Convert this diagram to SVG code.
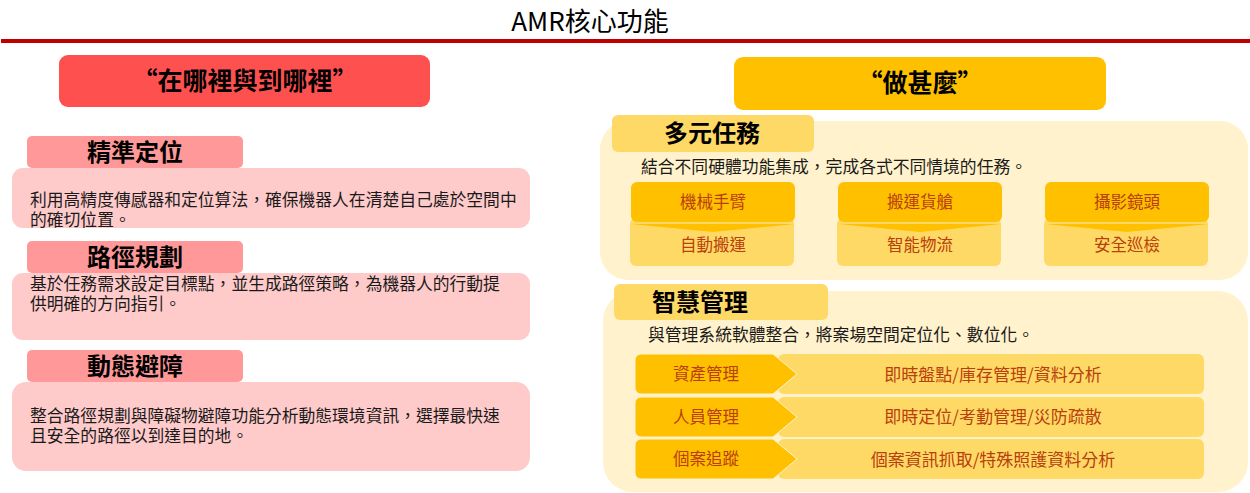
<svg xmlns="http://www.w3.org/2000/svg" width="1250" height="493" viewBox="0 0 1250 493">
<style>
text{font-family:"Noto Sans CJK TC","Noto Sans CJK SC",sans-serif;}
.title{font-size:26px;fill:#000;}
.hdr{font-size:25px;font-weight:bold;fill:#000;}
.tab{font-size:24px;font-weight:bold;fill:#000;}
.desc{font-size:16.8px;fill:#1a1a1a;}
.lbl{font-size:16.5px;fill:#B8400C;}
.lbl2{font-size:17px;fill:#B8400C;}
.red{fill:#FF5050;}
.pink{fill:#FF9999;}
.lpink{fill:#FFCACA;}
.gold{fill:#FFC000;}
.ygold{fill:#FFD966;}
.cream{fill:#FFF2CC;}
</style>
<rect width="1250" height="493" fill="#fff"/>
<g id="title">
<text class="title" x="590" y="31" text-anchor="middle">AMR核心功能</text>
<rect x="1" y="39" width="1249" height="4" fill="#C00000"/>
</g>

<g id="where">
<rect class="red" x="59" y="55" width="371" height="52" rx="9"/>
<text class="hdr" x="245" y="90" text-anchor="middle">“在哪裡與到哪裡”</text>
</g>

<g id="precise">
<rect class="lpink" x="12" y="168" width="518" height="60" rx="11"/>
<rect class="pink" x="27" y="136" width="216" height="32" rx="5"/>
<text class="tab" x="135" y="161" text-anchor="middle">精準定位</text>
<text class="desc" x="30" y="206">利用高精度傳感器和定位算法，確保機器人在清楚自己處於空間中</text>
<text class="desc" x="30" y="226">的確切位置。</text>
</g>

<g id="path">
<rect class="lpink" x="12" y="273" width="518" height="67" rx="11"/>
<rect class="pink" x="27" y="241" width="216" height="32" rx="5"/>
<text class="tab" x="135" y="266" text-anchor="middle">路徑規劃</text>
<text class="desc" x="30" y="290">基於任務需求設定目標點，並生成路徑策略，為機器人的行動提</text>
<text class="desc" x="30" y="310">供明確的方向指引。</text>
</g>

<g id="avoid">
<rect class="lpink" x="12" y="382" width="518" height="89" rx="14"/>
<rect class="pink" x="27" y="350" width="216" height="32" rx="5"/>
<text class="tab" x="135" y="375" text-anchor="middle">動態避障</text>
<text class="desc" x="30" y="422">整合路徑規劃與障礙物避障功能分析動態環境資訊，選擇最快速</text>
<text class="desc" x="30" y="442">且安全的路徑以到達目的地。</text>
</g>

<g id="what">
<rect class="gold" x="734" y="57" width="372" height="53" rx="9"/>
<text class="hdr" x="920" y="92" text-anchor="middle">“做甚麼”</text>
</g>

<g id="multi">
<rect class="cream" x="600" y="121" width="648" height="159" rx="28"/>
<rect class="ygold" x="612" y="115" width="202" height="37" rx="6"/>
<text class="tab" x="712" y="142" text-anchor="middle">多元任務</text>
<text class="desc" x="641" y="173">結合不同硬體功能集成，完成各式不同情境的任務。</text>
</g>

<g id="task-arm">
<rect class="ygold" x="630" y="218" width="164" height="48" rx="6"/>
<rect class="gold" x="631" y="182" width="164" height="40" rx="6"/>
<polygon class="gold" points="631,224 795,224 713,232"/>
<text class="lbl" x="713" y="208" text-anchor="middle">機械手臂</text>
<text class="lbl" x="713" y="251" text-anchor="middle">自動搬運</text>
</g>
<g id="task-cargo">
<rect class="ygold" x="837" y="218" width="164" height="48" rx="6"/>
<rect class="gold" x="838" y="182" width="164" height="40" rx="6"/>
<polygon class="gold" points="838,224 1002,224 920,232"/>
<text class="lbl" x="920" y="208" text-anchor="middle">搬運貨艙</text>
<text class="lbl" x="920" y="251" text-anchor="middle">智能物流</text>
</g>
<g id="task-cam">
<rect class="ygold" x="1044" y="218" width="164" height="48" rx="6"/>
<rect class="gold" x="1045" y="182" width="164" height="40" rx="6"/>
<polygon class="gold" points="1045,224 1209,224 1127,232"/>
<text class="lbl" x="1127" y="208" text-anchor="middle">攝影鏡頭</text>
<text class="lbl" x="1127" y="251" text-anchor="middle">安全巡檢</text>
</g>

<g id="smart">
<rect class="cream" x="603" y="291" width="645" height="201" rx="30"/>
<rect class="ygold" x="614" y="284" width="214" height="36" rx="6"/>
<text class="tab" x="700" y="311" text-anchor="middle">智慧管理</text>
<text class="desc" x="648" y="341">與管理系統軟體整合，將案場空間定位化、數位化。</text>
</g>

<g id="row-asset">
<rect class="ygold" x="778" y="354" width="426" height="40" rx="6"/>
<path class="gold" d="M641,354 H773 L797,374 L773,394 H641 A6,6 0 0 1 635,388 V360 A6,6 0 0 1 641,354 Z" stroke="#FFF2CC" stroke-width="1"/>
<text class="lbl" x="706" y="380" text-anchor="middle">資產管理</text>
<text class="lbl2" x="993" y="381" text-anchor="middle">即時盤點/庫存管理/資料分析</text>
</g>
<g id="row-staff">
<rect class="ygold" x="778" y="397" width="426" height="40" rx="6"/>
<path class="gold" d="M641,397 H773 L797,417 L773,437 H641 A6,6 0 0 1 635,431 V403 A6,6 0 0 1 641,397 Z" stroke="#FFF2CC" stroke-width="1"/>
<text class="lbl" x="706" y="423" text-anchor="middle">人員管理</text>
<text class="lbl2" x="993" y="423" text-anchor="middle">即時定位/考勤管理/災防疏散</text>
</g>
<g id="row-case">
<rect class="ygold" x="778" y="439" width="426" height="40" rx="6"/>
<path class="gold" d="M641,439 H773 L797,459 L773,479 H641 A6,6 0 0 1 635,473 V445 A6,6 0 0 1 641,439 Z" stroke="#FFF2CC" stroke-width="1"/>
<text class="lbl" x="706" y="465" text-anchor="middle">個案追蹤</text>
<text class="lbl2" x="993" y="466" text-anchor="middle">個案資訊抓取/特殊照護資料分析</text>
</g>

<g id="connectors"></g>
</svg>
